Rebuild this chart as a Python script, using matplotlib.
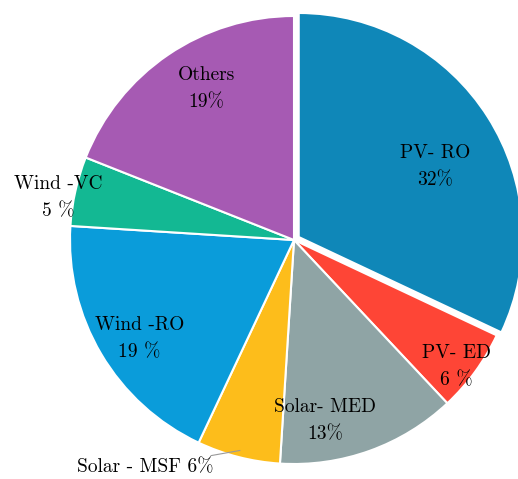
import numpy as np
import matplotlib.pyplot as plt

plt.rcParams['font.family'] = ['cmr10', 'DejaVu Serif']
plt.rcParams['axes.unicode_minus'] = False

# data
names = ['PV- RO', 'PV- ED', 'Solar- MED', 'Solar - MSF', 'Wind -RO', 'Wind -VC', 'Others']
shares = [32, 6, 13, 6, 19, 5, 19]
pct_text = ['32%', '6 %', '13%', '6%', '19 %', '5 %', '19%']
colours = ['#0f87b8', '#fe4536', '#8fa4a5', '#fdbd1b', '#0a9cda', '#13b893', '#a65ab3']

fig = plt.figure(figsize=(5.18, 4.79), dpi=100)
ax = fig.add_axes([0, 0, 1, 1])

explode = [0.025, 0, 0, 0, 0, 0, 0]
wedges, _ = ax.pie(shares, colors=colours, startangle=90, counterclock=False,
                   explode=explode, radius=1.0,
                   wedgeprops=dict(edgecolor='white', linewidth=1.5))

# pie() resets limits, so map data units to pixels afterwards
R = 224.0
cx, cy = 294.0, 240.0
ax.set_xlim(-cx / R, (518 - cx) / R)
ax.set_ylim(-(479 - cy) / R, cy / R)
ax.set_aspect('equal')
ax.axis('off')

fs = 14
ls = 1.65

# label placement: (radius, angle nudge in degrees)
place = [(0.71, -5), (0.92, -2), (0.82, -10), None, (0.82, 2), None, (0.78, -4)]

for i, w in enumerate(wedges):
    mid = np.deg2rad((w.theta1 + w.theta2) / 2)
    if place[i] is None:
        continue
    r, nudge = place[i]
    a = mid + np.deg2rad(nudge)
    x, y = r * np.cos(a), r * np.sin(a)
    ax.text(x, y, names[i] + '\n' + pct_text[i], ha='center', va='center',
            fontsize=fs, linespacing=ls)

# Wind-VC label outside on the left
w = wedges[5]
mid = np.deg2rad((w.theta1 + w.theta2) / 2)
ax.text(1.07 * np.cos(mid + np.deg2rad(2.4)), 1.07 * np.sin(mid + np.deg2rad(2.4)),
        names[5] + '\n' + pct_text[5], ha='center', va='center',
        fontsize=fs, linespacing=ls)

# Solar-MSF label with a leader line
w = wedges[3]
mid = np.deg2rad((w.theta1 + w.theta2) / 2)
ax.annotate(names[3] + ' ' + pct_text[3],
            xy=(0.97 * np.cos(mid), 0.97 * np.sin(mid)),
            xytext=(-0.36, -1.015), ha='right', va='center', fontsize=fs,
            arrowprops=dict(arrowstyle='-', color='#999999', lw=0.8,
                            shrinkA=0, shrinkB=0))

fig.savefig('out.png', dpi=100)
